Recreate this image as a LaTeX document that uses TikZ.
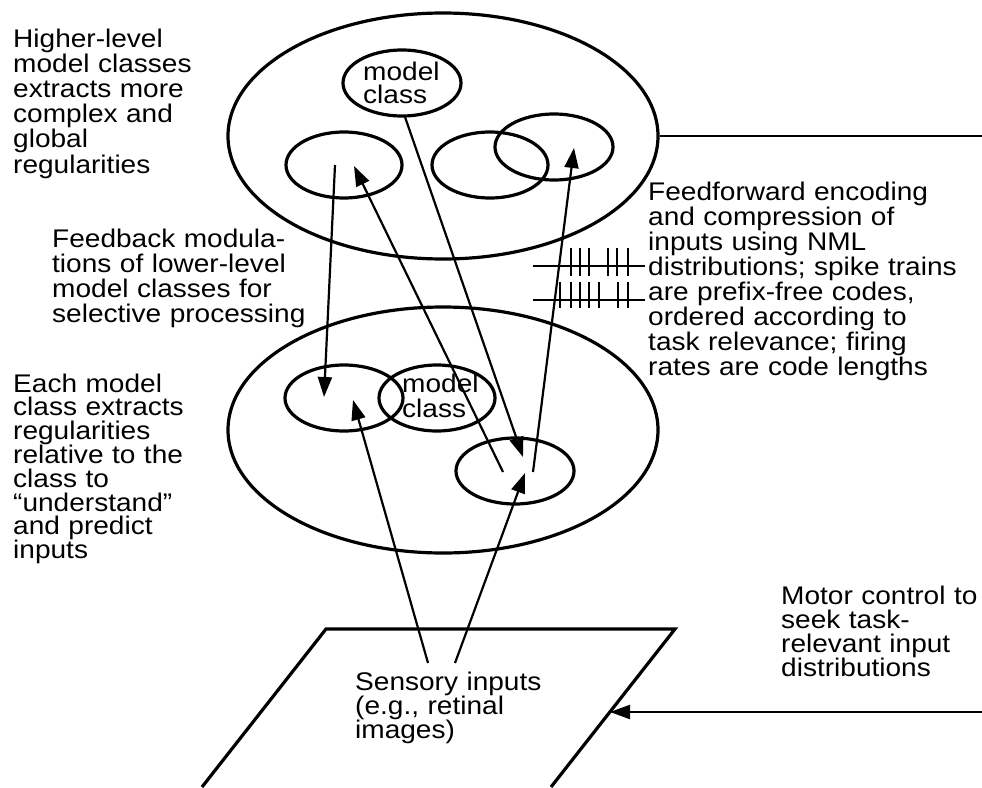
\documentclass[tikz,border=0pt]{standalone}
\usepackage{fontspec}
\setmainfont{Liberation Sans}[FakeStretch=1.1]
\usetikzlibrary{shapes.geometric,arrows.meta}
\begin{document}
\begin{tikzpicture}[x=1pt,y=-1pt,
  ell/.style={draw,ellipse,line width=3.2pt,inner sep=0pt},
  con/.style={line width=2.2pt},
  arr/.style={con,-{Triangle[length=20pt,width=14pt]}},
  spk/.style={line width=2.2pt},
  txt/.style={font=\fontsize{25.5}{#1}\selectfont,align=left,inner sep=0pt,anchor=base west,text width=340pt},
  txt/.default=25]
\useasboundingbox (0,0) rectangle (982,787);
% large ellipses
\node[ell,minimum width=430pt,minimum height=246pt] (top) at (443,136) {};
\node[ell,minimum width=430pt,minimum height=246pt] (bot) at (443,430) {};
% inner ellipses (top)
\node[ell,minimum width=118pt,minimum height=66pt] (tmc) at (402,83) {};
\node[ell,minimum width=116pt,minimum height=66pt] (tl) at (344,165) {};
\node[ell,minimum width=116pt,minimum height=66pt] (tm) at (490,165) {};
\node[ell,minimum width=118pt,minimum height=66pt] (tr) at (554,147) {};
% inner ellipses (bottom)
\node[ell,minimum width=118pt,minimum height=66pt] (bl) at (344,398) {};
\node[ell,minimum width=116pt,minimum height=66pt] (bm) at (437,398) {};
\node[ell,minimum width=118pt,minimum height=66pt] (br) at (515,471) {};
% model class labels
\node[txt=23] (tmct) at (363,80) {model\\class};
\node[txt=25] (bmct) at (402,392) {model\\class};
% parallelogram
\draw[line width=3.2pt] (202,787) -- (326,629) -- (675,629) -- (551,787);
% connector end points
\coordinate (a1s) at (335,165);
\coordinate (a1e) at (324,397);
\coordinate (a2s) at (503,472);
\coordinate (a2e) at (354,166);
\coordinate (a3s) at (405,117);
\coordinate (a3e) at (523,457);
\coordinate (a4s) at (533,472);
\coordinate (a4e) at (574,148);
\coordinate (a5s) at (428,663);
\coordinate (a5e) at (353,400);
\coordinate (a6s) at (455,663);
\coordinate (a6e) at (525,473);
\coordinate (mot) at (982,712);
\coordinate (mote) at (610,712);
\coordinate (rend) at (982,136);
\draw[arr] (a1s) -- (a1e);
\draw[arr] (a2s) -- (a2e);
\draw[arr] (a3s) -- (a3e);
\draw[arr] (a4s) -- (a4e);
\draw[arr] (a5s) -- (a5e);
\draw[arr] (a6s) -- (a6e);
\draw[arr] (mot) -- (mote);
\draw[con] (top.east) -- (rend);
% spike trains
\draw[spk] (533,266) -- (645,266);
\foreach \x in {571,580,589,608,617,628} \draw[spk] (\x,248) -- (\x,276);
\draw[spk] (533,300) -- (645,300);
\foreach \x in {560,571,580,589,599,618,628} \draw[spk] (\x,282) -- (\x,308);
% texts
\node[txt=25.2] (t1) at (13,47) {Higher-level\\model classes\\extracts more\\complex and\\global\\regularities};
\node[txt=25] (t2) at (52,247) {Feedback modula-\\tions of lower-level\\model classes for\\selective processing};
\node[txt=23.8] (t3) at (13,392) {Each model\\class extracts\\regularities\\relative to the\\class to\\“understand”\\and predict\\inputs};
\node[txt=25] (t4) at (648,200) {Feedforward encoding\\and compression of\\inputs using NML\\distributions; spike trains\\are prefix-free codes,\\ordered according to\\task relevance; firing\\rates are code lengths};
\node[txt=24] (t5) at (781,604) {Motor control to\\seek task-\\relevant input\\distributions};
\node[txt=24] (t6) at (355,690) {Sensory inputs\\(e.g., retinal\\images)};
\end{tikzpicture}
\end{document}
